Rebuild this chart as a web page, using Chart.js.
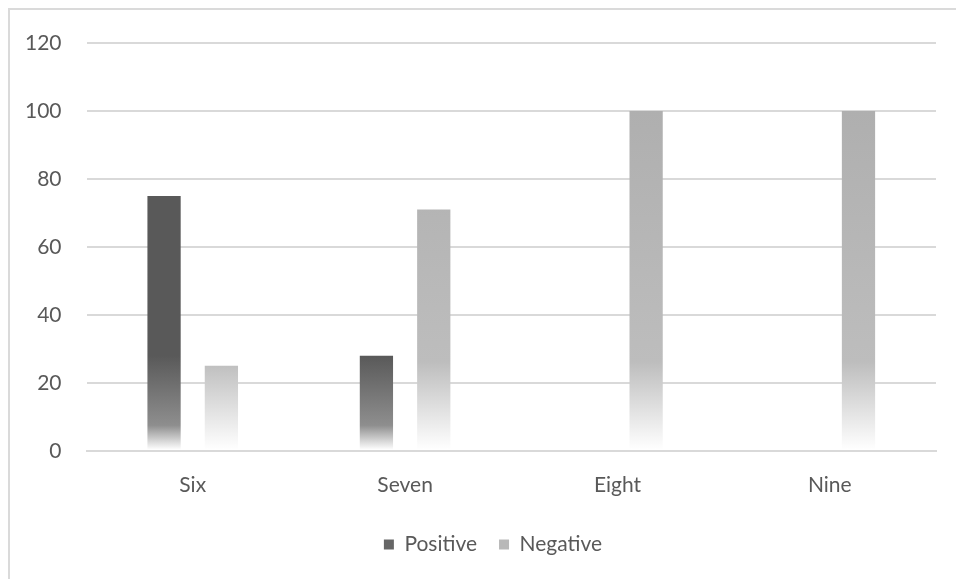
<!DOCTYPE html>
<html>
<head>
<meta charset="utf-8">
<script src="https://cdn.jsdelivr.net/npm/chart.js"></script>
<style>
  html, body { margin: 0; padding: 0; background: #fff; overflow: hidden; }
  #frame { position: absolute; left: 8px; top: 8px; width: 970px; height: 590px; border: 2px solid #dadada; box-sizing: border-box; }
  #wrap { position: absolute; left: 0; top: 0; width: 956px; height: 579px; }
</style>
</head>
<body>
<div id="frame"></div>
<div id="wrap"><canvas id="chart"></canvas></div>
<script>
// categories and values
const categories = ['Six', 'Seven', 'Eight', 'Nine'];
const positive = [75, 28, 0, 0];
const negative = [25, 71, 100, 100];
const yTicks = [0, 20, 40, 60, 80, 100, 120];

const textColor = '#595959';
const fontFamily = 'Lato, "Open Sans", sans-serif';

// colour stops for each series: top, where the fade starts, bottom
const shades = [
    ['#595959', '#8e8e8e', '#ffffff'],
    ['#afafaf', '#bdbdbd', '#ffffff']
];

// every bar gets its own top-to-bottom gradient that fades to white near the base
const barFade = {
    id: 'barFade',
    beforeDatasetsDraw(chart) {
        const ctx = chart.ctx;
        chart.data.datasets.forEach((ds, i) => {
            const meta = chart.getDatasetMeta(i);
            meta.data.forEach(bar => {
                if (bar.base - bar.y < 1) return;
                const g = ctx.createLinearGradient(0, bar.y, 0, bar.base);
                g.addColorStop(0, shades[i][0]);
                g.addColorStop(0.74, shades[i][1]);
                g.addColorStop(1, shades[i][2]);
                bar.options.backgroundColor = g;
            });
        });
    }
};

// legend sits centred under the plot area, not under the whole canvas
const legendShift = {
    id: 'legendShift',
    afterLayout(chart) {
        chart.legend.left += 25;
        chart.legend.right += 25;
    }
};

new Chart(document.getElementById('chart'), {
    type: 'bar',
    data: {
        labels: categories,
        datasets: [{
            label: 'Positive',
            data: positive,
            backgroundColor: '#666666',
            borderWidth: 0,
            categoryPercentage: 0.54,
            barPercentage: 0.58
        }, {
            label: 'Negative',
            data: negative,
            backgroundColor: '#b8b8b8',
            borderWidth: 0,
            categoryPercentage: 0.54,
            barPercentage: 0.58
        }]
    },
    options: {
        responsive: true,
        maintainAspectRatio: false,
        animation: false,
        layout: { padding: { left: 0, right: 20, top: 43, bottom: 14 } },
        plugins: {
            tooltip: { enabled: false },
            legend: {
                position: 'bottom',
                labels: {
                    color: textColor,
                    font: { family: fontFamily, size: 21 },
                    boxWidth: 10,
                    boxHeight: 10,
                    padding: 22
                }
            }
        },
        scales: {
            x: {
                grid: { display: false },
                border: { color: '#d9d9d9', width: 2 },
                ticks: { color: textColor, font: { family: fontFamily, size: 21 }, padding: 14 }
            },
            y: {
                min: 0,
                max: 120,
                afterBuildTicks(axis) { axis.ticks = yTicks.map(v => ({ value: v })); },
                grid: { color: '#d9d9d9', lineWidth: 2, drawTicks: false },
                border: { display: false },
                ticks: { color: textColor, font: { family: fontFamily, size: 21 }, padding: 25 }
            }
        }
    },
    plugins: [barFade, legendShift]
});
</script>
</body>
</html>
